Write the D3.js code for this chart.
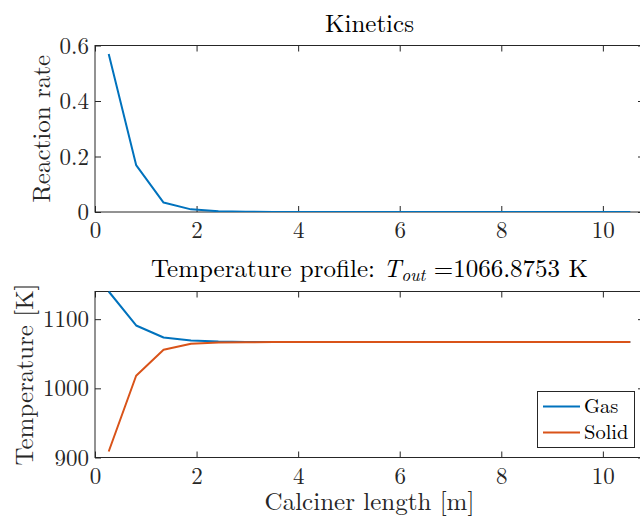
<!DOCTYPE html>
<html>
<head>
<meta charset="utf-8">
<script src="https://cdn.jsdelivr.net/npm/d3@7"></script>
<style>
  html, body { margin: 0; padding: 0; background: #ffffff; }
  svg { display: block; }
</style>
</head>
<body>
<div id="chart"></div>
<script>
// ---- data ----
const xPositions = [0.27, 0.81, 1.35, 1.89, 2.43, 2.97, 3.51, 4.05, 4.59, 5.13,
                    5.68, 6.22, 6.76, 7.30, 7.84, 8.38, 8.92, 9.46, 10.00, 10.54];
const reactionRate = [0.569, 0.169, 0.034, 0.0095, 0.0028, 0.0009, 0.0003, 0.0001, 0.00004, 0.00002,
                      0.00001, 0, 0, 0, 0, 0, 0, 0, 0, 0];
const gasTemp = [1140, 1090.9, 1073.5, 1069.3, 1067.6, 1067.1, 1066.95, 1066.9, 1066.89, 1066.885,
                 1066.88, 1066.878, 1066.877, 1066.876, 1066.876, 1066.8755, 1066.8754, 1066.8753, 1066.8753, 1066.8753];
const solidTemp = [908.7, 1018.2, 1055.7, 1064.4, 1066.2, 1066.7, 1066.83, 1066.86, 1066.87, 1066.873,
                   1066.874, 1066.875, 1066.875, 1066.8752, 1066.8752, 1066.8753, 1066.8753, 1066.8753, 1066.8753, 1066.8753];
const xTicks = [0, 2, 4, 6, 8, 10];
const rateTicks = [0, 0.2, 0.4, 0.6];
const rateTickLabels = ["0", "0.2", "0.4", "0.6"];
const tempTicks = [900, 1000, 1100];
const tempTickLabels = ["900", "1000", "1100"];
const xDomain = [0, 10.81];
const rateDomain = [0, 0.6];
const tempDomain = [900, 1140];
const seriesNames = ["Gas", "Solid"];
const seriesColors = ["#0072BD", "#D95319"];
const titleTop = "Kinetics";
const toutValue = "1066.8753";

// ---- layout ----
const W = 640, H = 517;
const left = 95, right = 644;
const top1 = 45.5, bot1 = 212;
const top2 = 291.5, bot2 = 457.5;
const axisColor = "#262626";
const tickLen = 6;
const FONT = '"Latin Modern Roman", "Liberation Serif", serif';
const tickFont = 23, labelFont = 25, titleFont = 25, legendFont = 20.5;

const svg = d3.select("#chart").append("svg").attr("width", W).attr("height", H);

const x = d3.scaleLinear().domain(xDomain).range([left, right]);
const yRate = d3.scaleLinear().domain(rateDomain).range([bot1, top1]);
const yTemp = d3.scaleLinear().domain(tempDomain).range([bot2, top2]);

const defs = svg.append("defs");
defs.append("clipPath").attr("id", "clip1").append("rect")
  .attr("x", left).attr("y", top1).attr("width", right - left).attr("height", bot1 - top1);
defs.append("clipPath").attr("id", "clip2").append("rect")
  .attr("x", left).attr("y", top2 - 2).attr("width", right - left).attr("height", bot2 - top2 + 2);

function txt(sel, size, color) {
  return sel.style("font-family", FONT).style("font-size", size + "px").style("fill", color || "#000");
}

function drawAxes(yScale, yTop, yBot, yTickVals, yTickLabs) {
  const g = svg.append("g");
  const bottom = g.append("g").attr("transform", `translate(0,${yBot})`)
    .call(d3.axisBottom(x).tickValues(xTicks).tickSizeInner(-tickLen).tickSizeOuter(0).tickPadding(0).tickFormat(d3.format("d")));
  const topA = g.append("g").attr("transform", `translate(0,${yTop})`)
    .call(d3.axisTop(x).tickValues(xTicks).tickSizeInner(-tickLen).tickSizeOuter(0).tickFormat(""));
  const leftA = g.append("g").attr("transform", `translate(${left},0)`)
    .call(d3.axisLeft(yScale).tickValues(yTickVals).tickSizeInner(-tickLen).tickSizeOuter(0).tickPadding(0)
      .tickFormat((d, i) => yTickLabs[i]));
  const rightA = g.append("g").attr("transform", `translate(${right},0)`)
    .call(d3.axisRight(yScale).tickValues(yTickVals).tickSizeInner(-tickLen).tickSizeOuter(0).tickFormat(""));
  [bottom, topA, leftA, rightA].forEach(a => {
    a.select(".domain").remove();
    a.selectAll(".tick line").attr("stroke", axisColor).attr("stroke-width", 1);
    txt(a.selectAll("text"), tickFont, "#262626");
  });
  bottom.selectAll(".tick text").attr("y", 0).attr("dy", null)
    .attr("transform", "translate(0,26)");
  leftA.selectAll(".tick text").attr("x", -6).attr("dy", "0.33em");
  g.append("rect").attr("x", left).attr("y", yTop).attr("width", right - left).attr("height", yBot - yTop)
    .attr("fill", "none").attr("stroke", axisColor).attr("stroke-width", 1);
  return g;
}

// ---- top panel ----
drawAxes(yRate, top1, bot1, rateTicks, rateTickLabels);
const lineRate = d3.line().x((d, i) => x(xPositions[i])).y(d => yRate(d));
svg.append("path").datum(reactionRate)
  .attr("clip-path", "url(#clip1)")
  .attr("fill", "none").attr("stroke", seriesColors[0]).attr("stroke-width", 2)
  .attr("stroke-linejoin", "round").attr("d", lineRate);

txt(svg.append("text").attr("x", (left + right) / 2).attr("y", 31.5)
  .attr("text-anchor", "middle"), titleFont).text(titleTop);
txt(svg.append("text").attr("transform", `translate(50,${(top1 + bot1) / 2}) rotate(-90)`)
  .attr("text-anchor", "middle"), labelFont, "#262626").text("Reaction rate");

// ---- bottom panel ----
drawAxes(yTemp, top2, bot2, tempTicks, tempTickLabels);
const lineTemp = d3.line().x((d, i) => x(xPositions[i])).y(d => yTemp(d));
[gasTemp, solidTemp].forEach((s, k) => {
  svg.append("path").datum(s)
    .attr("clip-path", "url(#clip2)")
    .attr("fill", "none").attr("stroke", seriesColors[k]).attr("stroke-width", 2)
    .attr("stroke-linejoin", "round").attr("d", lineTemp);
});

const t2 = txt(svg.append("text").attr("x", (left + right) / 2).attr("y", 277)
  .attr("text-anchor", "middle"), titleFont);
t2.append("tspan").text("Temperature profile: ");
t2.append("tspan").style("font-style", "italic").text("T");
t2.append("tspan").style("font-style", "italic").style("font-size", "17.5px").attr("dy", 4).text("out");
t2.append("tspan").attr("dy", -4).text(" =" + toutValue + " K");

txt(svg.append("text").attr("transform", `translate(33,${(top2 + bot2) / 2}) rotate(-90)`)
  .attr("text-anchor", "middle"), labelFont, "#262626").text("Temperature [K]");
txt(svg.append("text").attr("x", (left + right) / 2).attr("y", 510)
  .attr("text-anchor", "middle"), labelFont, "#262626").text("Calciner length [m]");

// ---- legend ----
const leg = svg.append("g");
leg.append("rect").attr("x", 537.5).attr("y", 391.5).attr("width", 97).attr("height", 56)
  .attr("fill", "#fff").attr("stroke", axisColor).attr("stroke-width", 1);
seriesNames.forEach((n, i) => {
  const yy = 406.5 + i * 26;
  leg.append("line").attr("x1", 543).attr("x2", 580).attr("y1", yy).attr("y2", yy)
    .attr("stroke", seriesColors[i]).attr("stroke-width", 2);
  txt(leg.append("text").attr("x", 584).attr("y", yy).attr("dy", "0.33em"), legendFont).text(n);
});
</script>
</body>
</html>
